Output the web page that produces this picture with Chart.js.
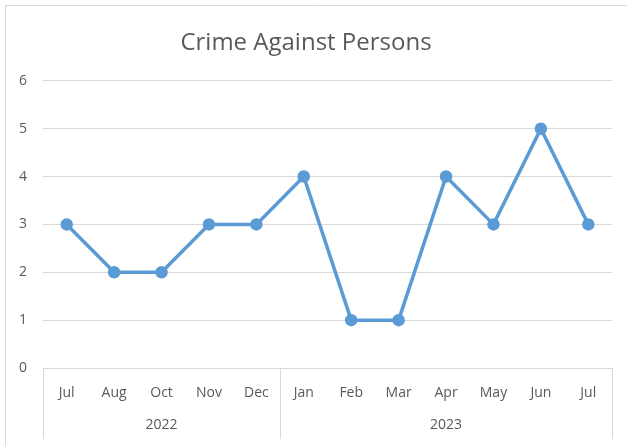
<!DOCTYPE html>
<html lang="en">
<head>
  <meta charset="UTF-8">
  <title>Crime Against Persons</title>
  <script src="https://cdn.jsdelivr.net/npm/chart.js"></script>
  <style>
    body { margin: 0; background: #fff; }
  </style>
</head>
<body>
<canvas id="crimeChart" width="627" height="446"></canvas>

<script>
  // data
  const months = ['Jul', 'Aug', 'Oct', 'Nov', 'Dec', 'Jan', 'Feb', 'Mar', 'Apr', 'May', 'Jun', 'Jul'];
  const crimes = [3, 2, 2, 3, 3, 4, 1, 1, 4, 3, 5, 3];
  const years = ['2022', '2023'];
  const yearCounts = [5, 7];   // how many months fall under each year

  const textColor = '#595959';
  const lineGray = '#d9d9d9';

  // outer frame + two-level category box under the x axis
  const excelFrame = {
    id: 'excelFrame',
    beforeDraw(chart) {
      const ctx = chart.ctx;
      ctx.save();
      ctx.strokeStyle = lineGray;
      ctx.lineWidth = 1;
      ctx.beginPath();
      ctx.moveTo(5.5, 446);
      ctx.lineTo(5.5, 5.5);
      ctx.lineTo(627, 5.5);
      ctx.stroke();
      ctx.restore();
    },
    afterDraw(chart) {
      const ctx = chart.ctx;
      const x = chart.scales.x;
      const area = chart.chartArea;
      const bottom = 439;
      const half = (x.getPixelForValue(1) - x.getPixelForValue(0)) / 2;
      ctx.save();
      ctx.strokeStyle = lineGray;
      ctx.lineWidth = 1;
      ctx.beginPath();
      ctx.moveTo(Math.round(area.left) + 0.5, area.bottom);
      ctx.lineTo(Math.round(area.left) + 0.5, bottom);
      let start = 0;
      yearCounts.forEach(n => {
        const edge = Math.round(x.getPixelForValue(start + n - 1) + half) + 0.5;
        ctx.moveTo(edge, area.bottom);
        ctx.lineTo(edge, bottom);
        start += n;
      });
      ctx.stroke();

      ctx.fillStyle = textColor;
      ctx.font = '14px "Open Sans", sans-serif';
      ctx.textAlign = 'center';
      ctx.textBaseline = 'middle';
      start = 0;
      yearCounts.forEach((n, i) => {
        const l = x.getPixelForValue(start) - half;
        const r = x.getPixelForValue(start + n - 1) + half;
        ctx.fillText(years[i], (l + r) / 2, 425);
        start += n;
      });
      ctx.restore();
    }
  };

  new Chart(document.getElementById('crimeChart'), {
    type: 'line',
    data: {
      labels: months,
      datasets: [{
        label: 'Crime Against Persons',
        data: crimes,
        borderColor: '#5b9bd5',
        backgroundColor: '#5b9bd5',
        borderWidth: 3.5,
        pointRadius: 4.5,
        pointHoverRadius: 4.5,
        tension: 0,
        fill: false
      }]
    },
    options: {
      responsive: false,
      animation: false,
      layout: { padding: { left: 0, right: 15, top: 0, bottom: 0 } },
      plugins: {
        legend: { display: false },
        tooltip: { enabled: false },
        title: {
          display: true,
          text: 'Crime Against Persons',
          color: textColor,
          font: { family: '"Open Sans", sans-serif', size: 24, weight: 'normal' },
          padding: { top: 29, bottom: 23 }
        }
      },
      scales: {
        x: {
          offset: true,
          grid: { display: false, drawTicks: false },
          border: { display: true, color: lineGray },
          ticks: {
            color: textColor,
            font: { family: '"Open Sans", sans-serif', size: 14 },
            padding: 17,
            maxRotation: 0,
            autoSkip: false
          },
          afterFit(scale) { scale.height = 78; }
        },
        y: {
          min: 0,
          max: 6,
          ticks: {
            stepSize: 1,
            color: textColor,
            font: { family: '"Open Sans", sans-serif', size: 14 },
            padding: 16
          },
          grid: { color: lineGray, drawTicks: false },
          border: { display: false },
          afterFit(scale) { scale.width = 43; }
        }
      }
    },
    plugins: [excelFrame]
  });
</script>
</body>
</html>
